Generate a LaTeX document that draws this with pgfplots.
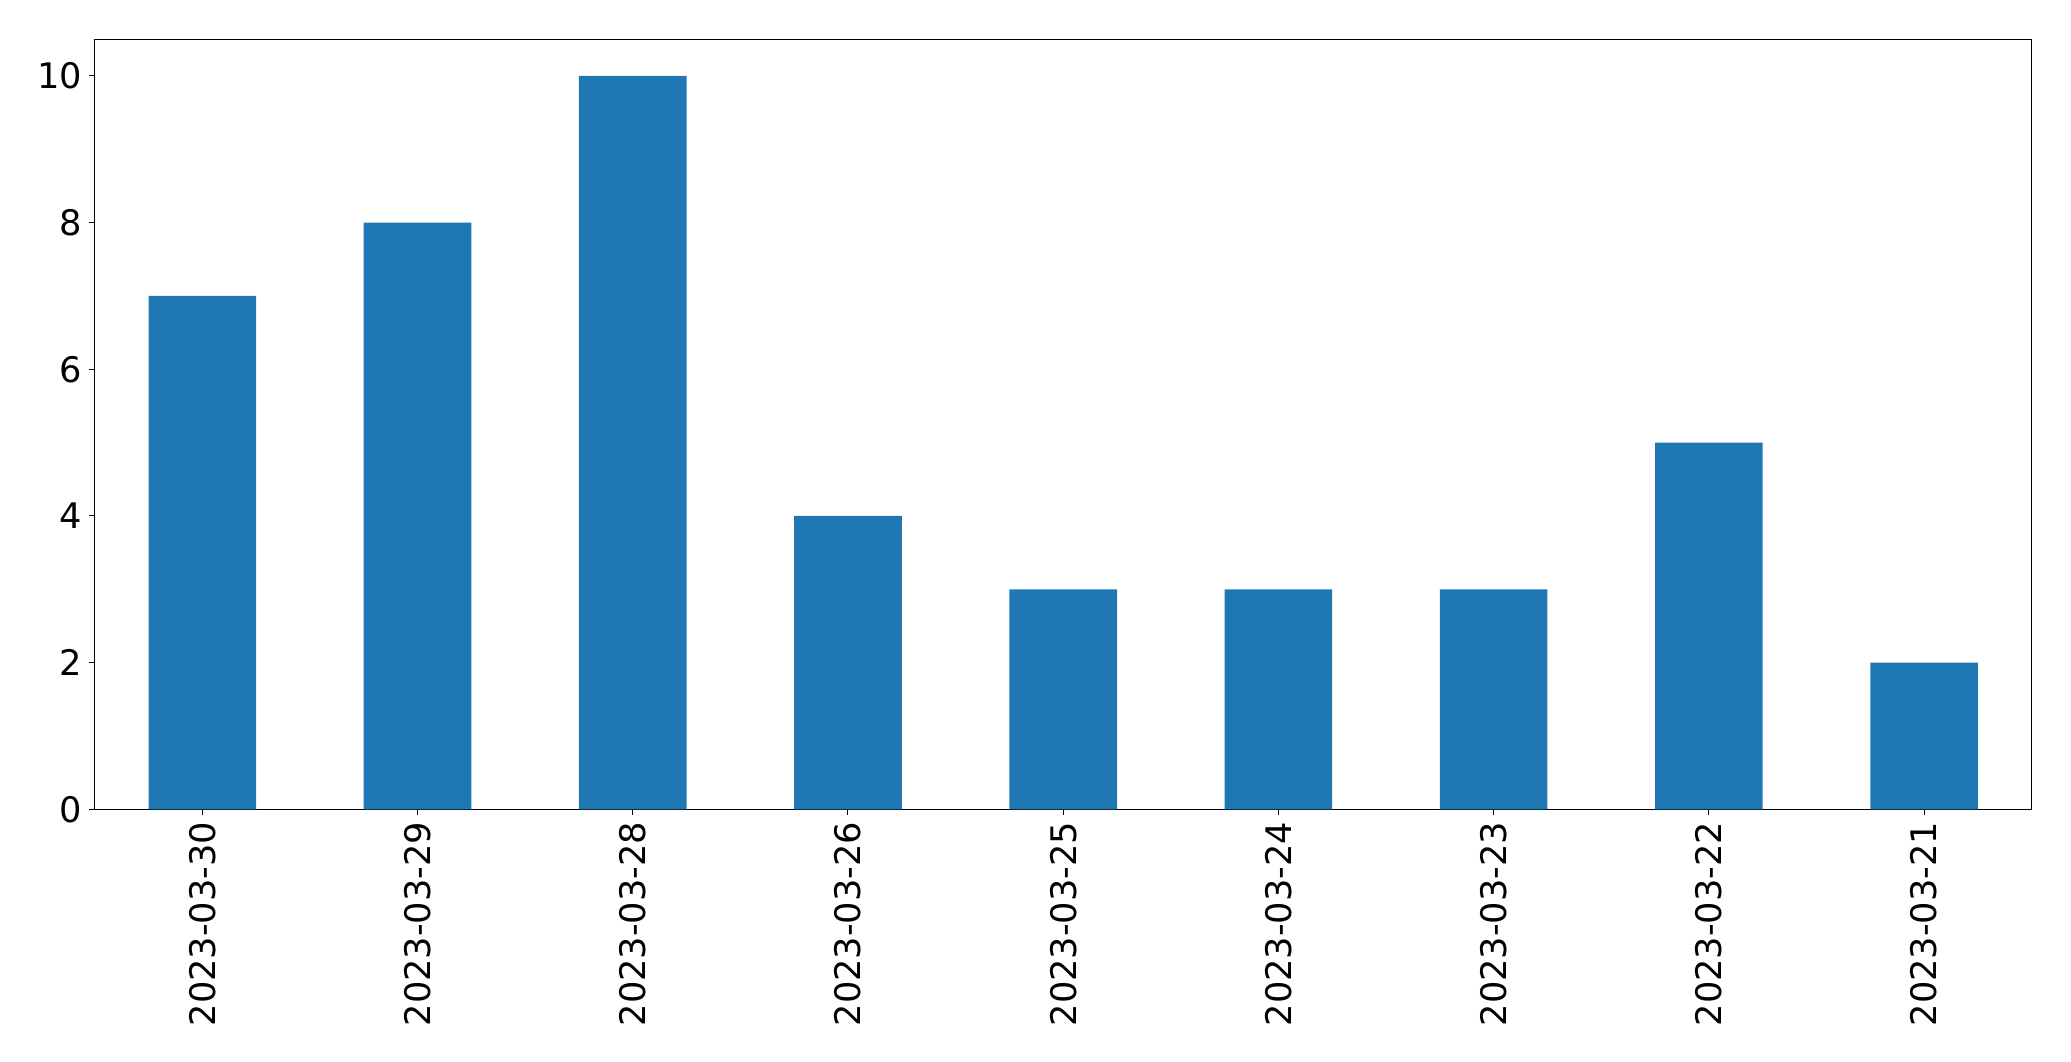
\documentclass[border=0pt]{standalone}
\usepackage{fontspec}
\setmainfont{DejaVu Sans}
\usepackage{pgfplots}
\pgfplotsset{compat=1.18}
\definecolor{mplblue}{HTML}{1F77B4}
\begin{document}
\begin{tikzpicture}
\begin{axis}[
  scale only axis,
  width=968.5pt, height=385pt,
  xmin=-0.5, xmax=8.5,
  ymin=0, ymax=10.5,
  xtick={0,...,8},
  xticklabels={2023-03-30,2023-03-29,2023-03-28,2023-03-26,2023-03-25,2023-03-24,2023-03-23,2023-03-22,2023-03-21},
  x tick label style={rotate=90, anchor=east},
  ytick={0,2,4,6,8,10},
  tick label style={font=\fontsize{17.6pt}{20pt}\selectfont},
  /pgf/number format/assume math mode=true,
  tick align=outside,
  tickwidth=2.7pt,
  xtick pos=bottom, ytick pos=left,
  major tick style={line width=0.5pt, black},
  axis line style={line width=0.6pt, black},
]
\addplot[ybar, bar width=0.5, bar shift=0pt, fill=mplblue, draw=none] coordinates {
(0,7) (1,8) (2,10) (3,4) (4,3) (5,3) (6,3) (7,5) (8,2)
};
\end{axis}
\path (current axis.south west) +(-47.35pt,-125.85pt) (current axis.north east) +(19.65pt,19.65pt);
\end{tikzpicture}
\end{document}
